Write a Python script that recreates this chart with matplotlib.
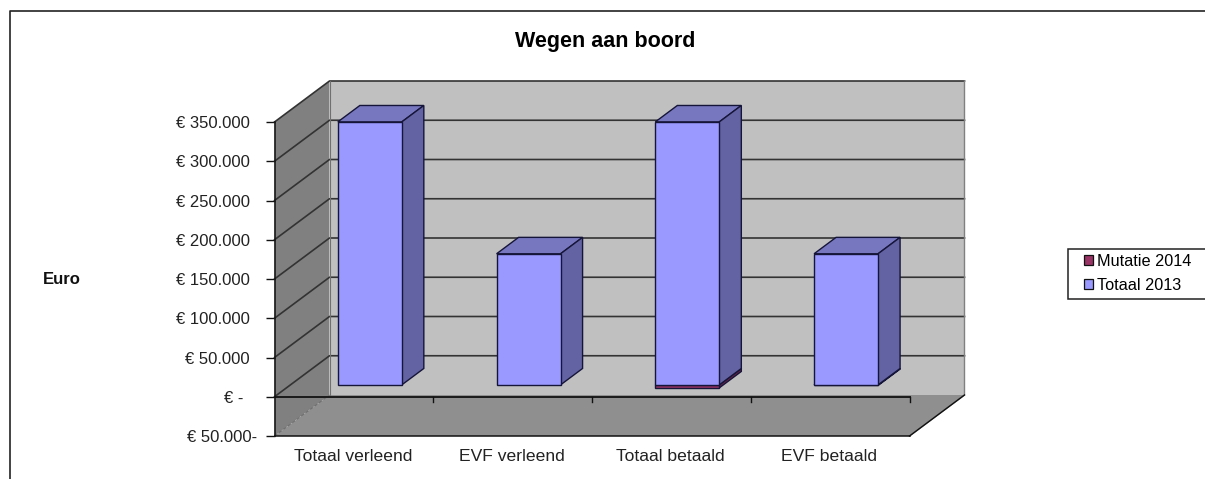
import matplotlib
matplotlib.use("Agg")
import matplotlib.pyplot as plt
from matplotlib.patches import Polygon, Patch, Rectangle
from matplotlib.lines import Line2D
from matplotlib.transforms import Affine2D

plt.rcParams['font.family'] = ['Liberation Sans', 'DejaVu Sans']

categories = ["Totaal verleend", "EVF verleend", "Totaal betaald", "EVF betaald"]
totaal_2013 = [335000, 167000, 335000, 167000]
mutatie_2014 = [0, 0, -3800, -800]
y_ticks = [-50000, 0, 50000, 100000, 150000, 200000, 250000, 300000, 350000]
y_labels = ["€ 50.000-", "€ -", "€ 50.000", "€ 100.000", "€ 150.000", "€ 200.000",
            "€ 250.000", "€ 300.000", "€ 350.000"]

W, H = 1205, 479
fig = plt.figure(figsize=(W / 100, H / 100), dpi=100, facecolor="white")

# front plane of the pseudo-3D box, in pixels
L, R, T, B = 274.5, 909.5, 122, 436
ax = fig.add_axes([L / W, 1 - B / H, (R - L) / W, (B - T) / H])
ax.set_xlim(0, 4)
ax.set_ylim(-50000, 350000)
ax.patch.set_visible(False)

# oblique projection: one unit of depth moves by these data amounts
DX = 55 / ((R - L) / 4)
DY = 41 / ((B - T) / 400000)


def P(x, y, d=0.0):
    return (x + d * DX, y + d * DY)


def poly(pts, fc, ec="none", lw=0.0, z=1):
    ax.add_patch(Polygon(pts, closed=True, facecolor=fc, edgecolor=ec, linewidth=lw,
                         zorder=z, clip_on=False))


ymin, ymax = -50000, 350000
GRID = "#333333"
# back wall, side wall, floor
poly([P(0, ymin, 1), P(4, ymin, 1), P(4, ymax, 1), P(0, ymax, 1)], "#C0C0C0", z=1)
poly([P(0, ymin, 0), P(0, ymin, 1), P(0, ymax, 1), P(0, ymax, 0)], "#808080", z=1)
poly([P(0, ymin, 0), P(4, ymin, 0), P(4, ymin, 1), P(0, ymin, 1)], "#8F8F8F", z=1)

# gridlines on wall and side wall
for v in y_ticks:
    if v == ymin:
        continue
    a, b, c = P(0, v, 0), P(0, v, 1), P(4, v, 1)
    ax.plot([a[0], b[0], c[0]], [a[1], b[1], c[1]], color=GRID, lw=1.2, zorder=2, clip_on=False)
a, b, c = P(4, ymin, 0), P(4, ymin, 1), P(4, ymax, 1)
ax.plot([a[0], b[0], c[0]], [a[1], b[1], c[1]], color="#808080", lw=1.0, zorder=2, clip_on=False)
a, b = P(0, ymin, 0), P(0, ymin, 1)
ax.plot([a[0], b[0]], [a[1], b[1]], color="#6e6e6e", lw=0.8, ls=(0, (3, 2)), zorder=2, clip_on=False)
a, b = P(4, ymin, 0), P(4, ymin, 1)
ax.plot([a[0], b[0]], [a[1], b[1]], color="#111111", lw=1.0, zorder=2, clip_on=False)
a, b = P(0, ymin, 1), P(0, ymax, 1)
ax.plot([a[0], b[0]], [a[1], b[1]], color="#707070", lw=0.8, zorder=2, clip_on=False)

# category axis at zero with boundary ticks
ax.plot([0, 4], [0, 0], color="#1a1a1a", lw=1.4, zorder=3, clip_on=False)
for i in range(1, 5):
    ax.plot([i, i], [0, -6500], color="#111111", lw=1.0, zorder=3, clip_on=False)

# bars
d0, d1 = 0.29, 0.29 + 22 / 55
half = 32 / ((R - L) / 4)
EDGE = "#15153a"


def box(xc, lo, hi, front, top, side, z):
    x0, x1 = xc - half, xc + half
    poly([P(x0, lo, d0), P(x1, lo, d0), P(x1, hi, d0), P(x0, hi, d0)], front, EDGE, 1.0, z + 0.2)
    poly([P(x0, hi, d0), P(x1, hi, d0), P(x1, hi, d1), P(x0, hi, d1)], top, EDGE, 1.0, z)
    poly([P(x1, lo, d0), P(x1, lo, d1), P(x1, hi, d1), P(x1, hi, d0)], side, EDGE, 1.0, z + 0.1)


for i, (t, m) in enumerate(zip(totaal_2013, mutatie_2014)):
    xc = i + 0.5
    if m:
        box(xc, m, 0, "#993366", "#7a2952", "#662244", 5)
    box(xc, 0, t, "#9999FF", "#7777C0", "#6363A3", 6)

# axes, ticks, labels
for s in ("top", "right"):
    ax.spines[s].set_visible(False)
for s in ("left", "bottom"):
    ax.spines[s].set_color("#111111")
    ax.spines[s].set_linewidth(1.1)
    ax.spines[s].set_zorder(4)
ax.set_yticks(y_ticks, y_labels)
ax.set_xticks([i + 0.5 for i in range(4)], categories)
ax.tick_params(axis="y", length=6.5, width=1.0, color="#111111", pad=11.5, labelsize=12, labelcolor="#222222")
ax.tick_params(axis="x", length=0, pad=9.5, labelsize=12.6, labelcolor="#222222")
labels = ax.get_yticklabels()
labels[0].set_transform(labels[0].get_transform() + Affine2D().translate(8, 0))
labels[1].set_transform(labels[1].get_transform() + Affine2D().translate(-6, 0))
for lab in ax.get_xticklabels():
    lab.set_transform(lab.get_transform() + Affine2D().translate(-1, 0))

fig.text(605.5 / W, 1 - 41.5 / H, "Wegen aan boord", fontsize=15.5, fontweight="bold",
         ha="center", va="center", color="black")
fig.text(62 / W, 1 - 279 / H, "Euro", fontsize=12, fontweight="bold",
         ha="center", va="center", color="#111111")

# outer chart frame (open right and bottom)
fig.add_artist(Line2D([9.5 / W, 9.5 / W, 1], [0, 1 - 10.5 / H, 1 - 10.5 / H], color="#222222", lw=1.2))

# legend
fig.add_artist(Rectangle((1067.5 / W, 1 - 299 / H), 170 / W, 50 / H, facecolor="white",
                         edgecolor="#222222", lw=1.1, clip_on=True))
handles = [Patch(facecolor="#993366", edgecolor="#111111", lw=0.9),
           Patch(facecolor="#9999FF", edgecolor="#111111", lw=0.9)]
fig.legend(handles, ["Mutatie 2014", "Totaal 2013"], loc="upper left",
           bbox_to_anchor=(1079.5 / W, 1 - 249 / H), frameon=False, fontsize=11.7,
           handlelength=0.55, handleheight=0.55, handletextpad=0.2, labelspacing=0.55,
           borderpad=0.3, borderaxespad=0)

fig.savefig("out.png", dpi=100, facecolor="white")
